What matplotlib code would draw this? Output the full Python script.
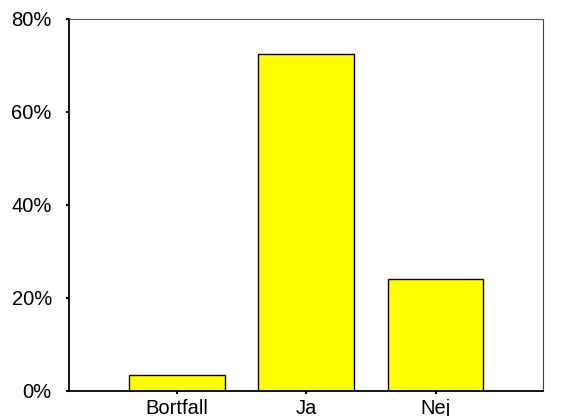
import matplotlib.pyplot as plt
from matplotlib.ticker import FuncFormatter

kategorier = ['Bortfall', 'Ja', 'Nej']
procent = [3.4, 72.4, 24.1]
yticks = [0, 20, 40, 60, 80]

plt.rcParams['font.family'] = ['Liberation Sans', 'DejaVu Sans']

fig = plt.figure(figsize=(5.63, 4.16), dpi=100)
ax = fig.add_axes([0.1217, 0.0608, 0.8428, 0.8947])

x = range(len(kategorier))
ax.bar(x, procent, width=0.74, color='#FFFF00', edgecolor='black', linewidth=1)

ax.set_xlim(-0.835, 2.83)
ax.set_ylim(0, 80)
ax.set_xticks(list(x))
ax.set_xticklabels(kategorier)
ax.set_yticks(yticks)
ax.yaxis.set_major_formatter(FuncFormatter(lambda v, p: f'{v:.0f}%'))

ax.tick_params(axis='y', length=2, width=1.5, pad=10, labelsize=14.5)
ax.tick_params(axis='x', length=2, width=1.5, pad=4, labelsize=14.5)

for side in ['left', 'bottom']:
    ax.spines[side].set_color('black')
    ax.spines[side].set_linewidth(1.3)
ax.spines['top'].set_color('#555555')
ax.spines['right'].set_color('#444444')

fig.savefig('out.png', dpi=100)
